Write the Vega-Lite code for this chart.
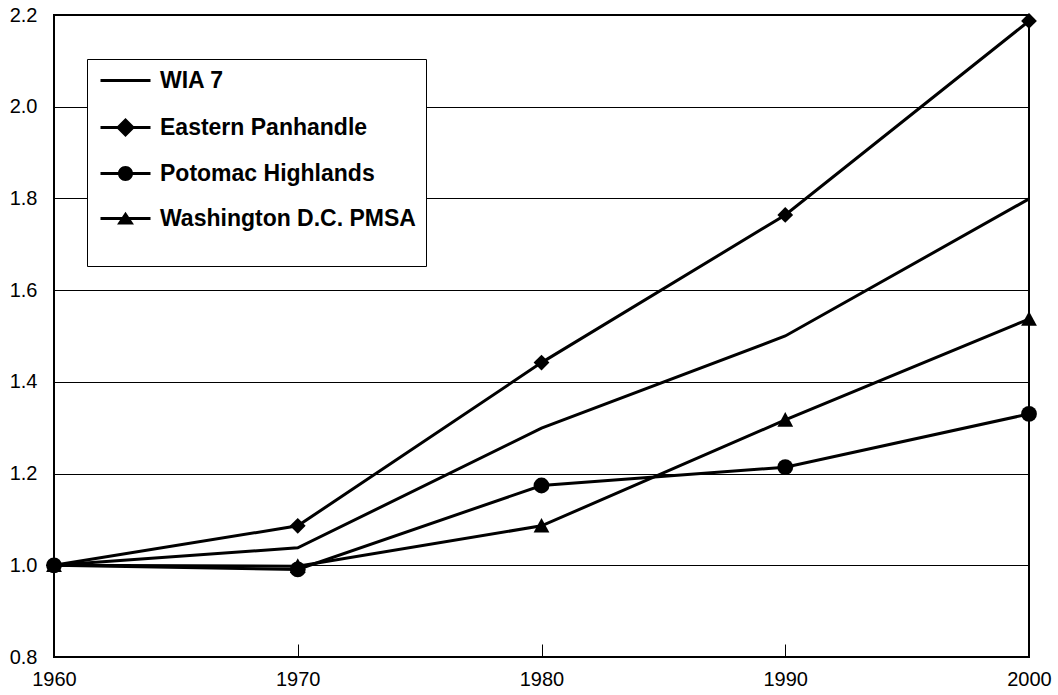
{
  "$schema": "https://vega.github.io/schema/vega-lite/v6.json",
  "width": 975,
  "height": 642,
  "autosize": {"type": "none"},
  "padding": {"left": 54, "top": 15, "right": 29, "bottom": 38},
  "background": "white",
  "config": {
    "view": {"stroke": "black", "strokeWidth": 2},
    "font": "Liberation Sans",
    "axis": {
      "labelFont": "Liberation Sans",
      "labelFontSize": 20,
      "labelColor": "black",
      "domain": false,
      "tickColor": "black",
      "tickWidth": 1,
      "title": null
    }
  },
  "data": {
    "values": [
      {"year": 1960, "region": "WIA 7", "value": 1.0},
      {"year": 1970, "region": "WIA 7", "value": 1.038},
      {"year": 1980, "region": "WIA 7", "value": 1.299},
      {"year": 1990, "region": "WIA 7", "value": 1.5},
      {"year": 2000, "region": "WIA 7", "value": 1.799},
      {"year": 1960, "region": "Eastern Panhandle", "value": 1.0},
      {"year": 1970, "region": "Eastern Panhandle", "value": 1.086},
      {"year": 1980, "region": "Eastern Panhandle", "value": 1.442},
      {"year": 1990, "region": "Eastern Panhandle", "value": 1.764},
      {"year": 2000, "region": "Eastern Panhandle", "value": 2.187},
      {"year": 1960, "region": "Potomac Highlands", "value": 1.0},
      {"year": 1970, "region": "Potomac Highlands", "value": 0.991},
      {"year": 1980, "region": "Potomac Highlands", "value": 1.174},
      {"year": 1990, "region": "Potomac Highlands", "value": 1.214},
      {"year": 2000, "region": "Potomac Highlands", "value": 1.33},
      {"year": 1960, "region": "Washington D.C. PMSA", "value": 1.0},
      {"year": 1970, "region": "Washington D.C. PMSA", "value": 0.998},
      {"year": 1980, "region": "Washington D.C. PMSA", "value": 1.086},
      {"year": 1990, "region": "Washington D.C. PMSA", "value": 1.317},
      {"year": 2000, "region": "Washington D.C. PMSA", "value": 1.537}
    ]
  },
  "encoding": {
    "x": {
      "field": "year",
      "type": "quantitative",
      "scale": {"domain": [1960, 2000], "nice": false, "zero": false},
      "axis": {
        "values": [1960, 1970, 1980, 1990, 2000],
        "format": "d",
        "grid": false,
        "tickSize": -13,
        "labelPadding": 25,
        "labelFlush": false,
        "labelOverlap": false
      }
    },
    "y": {
      "field": "value",
      "type": "quantitative",
      "scale": {"domain": [0.8, 2.2], "nice": false, "zero": false},
      "axis": {
        "values": [0.8, 1.0, 1.2, 1.4, 1.6, 1.8, 2.0, 2.2],
        "format": ".1f",
        "grid": true,
        "gridColor": "black",
        "gridWidth": 1,
        "gridOpacity": 1,
        "tickSize": -13,
        "labelPadding": 30,
        "labelOverlap": false
      }
    }
  },
  "resolve": {"scale": {"shape": "independent"}},
  "layer": [
    {
      "mark": {"type": "line", "color": "black", "strokeWidth": 3},
      "encoding": {"detail": {"field": "region", "type": "nominal"}}
    },
    {
      "transform": [{"filter": "datum.region !== 'WIA 7'"}],
      "mark": {"type": "point", "filled": true, "color": "black", "opacity": 1, "size": 250},
      "encoding": {
        "shape": {
          "field": "region",
          "type": "nominal",
          "scale": {
            "domain": ["WIA 7", "Eastern Panhandle", "Potomac Highlands", "Washington D.C. PMSA"],
            "range": ["circle", "diamond", "circle", "M-1,0.85L0,-1L1,0.85Z"]
          },
          "legend": null
        }
      }
    },
    {
      "transform": [{"filter": "false"}],
      "mark": {"type": "point", "filled": true, "color": "black", "opacity": 1, "size": 256},
      "encoding": {
        "shape": {
          "field": "region",
          "type": "nominal",
          "scale": {
            "domain": ["WIA 7", "Eastern Panhandle", "Potomac Highlands", "Washington D.C. PMSA"],
            "range": [
              "M-3.125,-0.19L3.125,-0.19L3.125,0.19L-3.125,0.19Z",
              "M-3.125,-0.19L3.125,-0.19L3.125,0.19L-3.125,0.19ZM-1.19,0L0,-1.19L1.19,0L0,1.19Z",
              "M-3.125,-0.19L3.125,-0.19L3.125,0.19L-3.125,0.19ZM0.94,0A0.94,0.94,0,1,1,-0.94,0A0.94,0.94,0,1,1,0.94,0Z",
              "M-3.125,-0.19L3.125,-0.19L3.125,0.19L-3.125,0.19ZM-1.06,0.75L0,-0.85L1.06,0.75Z"
            ]
          },
          "legend": {
            "orient": "none",
            "legendX": 33,
            "legendY": 44,
            "title": " ",
            "titleOrient": "bottom",
            "titleFontSize": 10,
            "titlePadding": 15,
            "padding": 10,
            "strokeColor": "black",
            "fillColor": "white",
            "symbolSize": 256,
            "symbolOffset": 17,
            "symbolOpacity": 1,
            "symbolFillColor": "black",
            "labelOffset": 23,
            "rowPadding": 21,
            "labelFont": "Liberation Sans",
            "labelFontSize": 23,
            "labelFontWeight": "bold",
            "labelColor": "black",
            "labelLimit": 0,
            "encode": {
              "legend": {"strokeWidth": {"value": 2}}
            }
          }
        }
      }
    }
  ]
}
